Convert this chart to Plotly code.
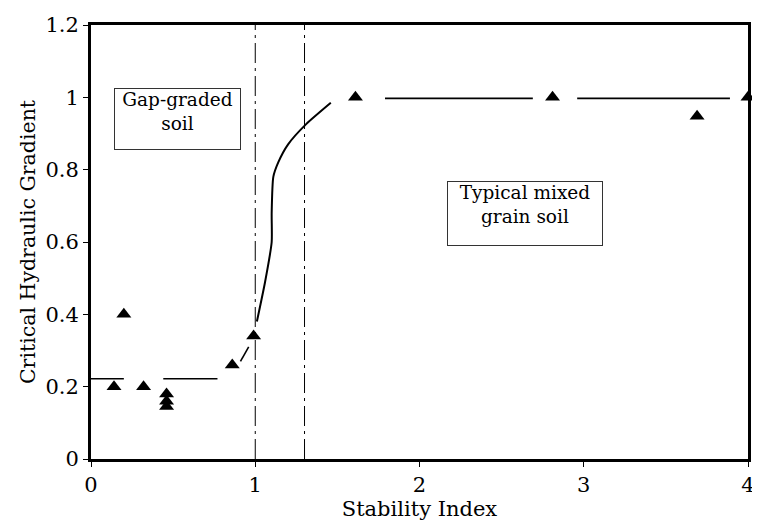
import plotly.graph_objects as go

# Data
tri_x = [0.14, 0.20, 0.32, 0.46, 0.46, 0.46, 0.86, 0.99, 1.61, 2.81, 3.69, 4.0]
tri_y = [0.20, 0.40, 0.20, 0.18, 0.16, 0.145, 0.26, 0.34, 1.0, 1.0, 0.948, 1.0]

low_x = [0.0, 0.20, None, 0.44, 0.77]
low_y = [0.222, 0.222, None, 0.222, 0.222]

trans_dash_x = [0.91, 0.96]
trans_dash_y = [0.27, 0.31]

curve_x = [1.01, 1.06, 1.10, 1.10, 1.11, 1.14, 1.20, 1.31, 1.46]
curve_y = [0.38, 0.49, 0.60, 0.68, 0.78, 0.82, 0.87, 0.926, 0.985]

high_x = [1.79, 2.69, None, 2.96, 3.89]
high_y = [0.997, 0.997, None, 0.997, 0.997]

vlines_x = [1.0, 1.3]

x_ticks = [0, 1, 2, 3, 4]
y_ticks = [0, 0.2, 0.4, 0.6, 0.8, 1.0, 1.2]
y_tick_text = ["0", "0.2", "0.4", "0.6", "0.8", "1", "1.2"]

FONT = "DejaVu Serif"

fig = go.Figure()

for vx in vlines_x:
    fig.add_trace(go.Scatter(x=[vx, vx], y=[0, 1.2], mode="lines",
                             line=dict(color="black", width=1, dash="20px,5px,3px,5px"),
                             hoverinfo="skip", showlegend=False))

fig.add_trace(go.Scatter(x=low_x, y=low_y, mode="lines",
                         line=dict(color="black", width=1.6), showlegend=False))
fig.add_trace(go.Scatter(x=trans_dash_x, y=trans_dash_y, mode="lines",
                         line=dict(color="black", width=1.6), showlegend=False))
fig.add_trace(go.Scatter(x=curve_x, y=curve_y, mode="lines",
                         line=dict(color="black", width=2, shape="spline", smoothing=0.6),
                         showlegend=False))
fig.add_trace(go.Scatter(x=high_x, y=high_y, mode="lines",
                         line=dict(color="black", width=1.6), showlegend=False))

fig.add_trace(go.Scatter(x=tri_x, y=tri_y, mode="markers",
                         marker=dict(symbol="triangle-up", size=13, color="black"),
                         cliponaxis=False, showlegend=False))

fig.add_annotation(x=0.527, y=0.94, xref="x", yref="y",
                   text="Gap-graded<br>soil", showarrow=False,
                   width=125, height=60, valign="top", align="center",
                   bordercolor="#333", borderwidth=1, borderpad=0,
                   font=dict(family=FONT, size=18.5, color="black"))
fig.add_annotation(x=2.645, y=0.679, xref="x", yref="y",
                   text="Typical mixed<br>grain soil", showarrow=False,
                   width=154, height=63, valign="top", align="center",
                   bordercolor="#333", borderwidth=1, borderpad=0,
                   font=dict(family=FONT, size=18.5, color="black"))

fig.update_layout(
    width=752, height=524,
    margin=dict(l=83, r=5, t=12, b=73),
    paper_bgcolor="white", plot_bgcolor="white",
    font=dict(family=FONT, size=20, color="black"),
    xaxis=dict(range=[0, 4], tickvals=x_ticks, ticktext=[str(t) for t in x_ticks],
               showgrid=False, zeroline=False, showline=True, linecolor="black",
               linewidth=3, mirror=True, ticks="outside", ticklen=5, tickwidth=1,
               tickcolor="black", tickfont=dict(family=FONT, size=21),
               ticklabeloverflow="allow",
               title=dict(text="Stability Index", font=dict(family=FONT, size=21), standoff=2)),
    yaxis=dict(range=[0, 1.2], tickvals=y_ticks, ticktext=y_tick_text,
               showgrid=False, zeroline=False, showline=True, linecolor="black",
               linewidth=3, mirror=True, ticks="outside", ticklen=5, tickwidth=1,
               tickcolor="black", tickfont=dict(family=FONT, size=21),
               ticklabeloverflow="allow",
               title=dict(text="Critical Hydraulic Gradient", font=dict(family=FONT, size=20.5), standoff=5)),
)

fig.write_html("out.html")
